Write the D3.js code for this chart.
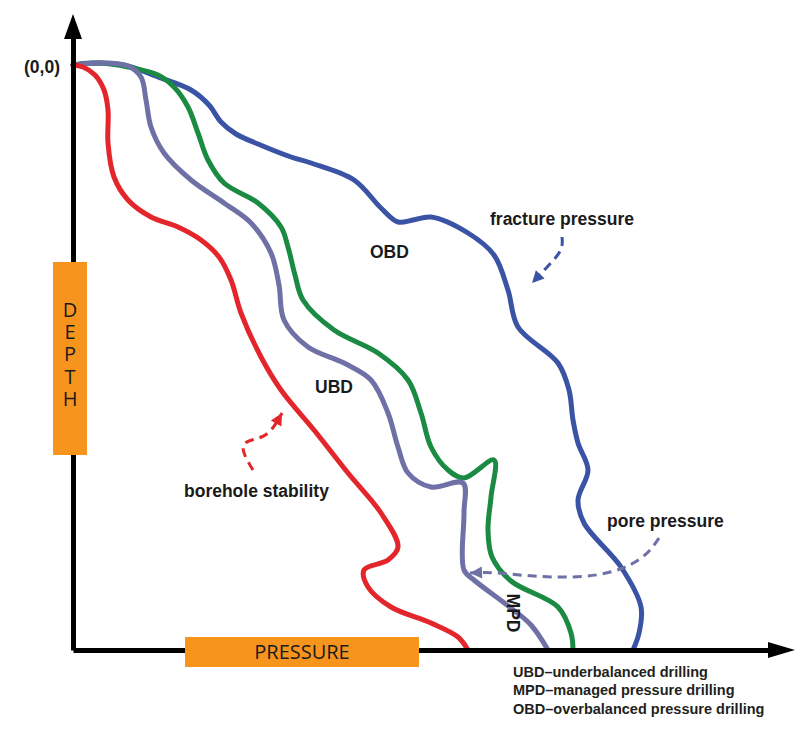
<!DOCTYPE html>
<html><head><meta charset="utf-8">
<script src="https://cdn.jsdelivr.net/npm/d3@7"></script>
<style>body{margin:0;background:#fff}svg{display:block}</style>
</head><body>
<svg id="c" width="800" height="730"></svg>
<script>
// Data (pressure, depth), origin (0,0) at top-left of the axes
const fracturePressure = [[0,0],[18,-2],[51,0],[85,12],[118,25],[136,40],[148,57],[163,69],[185,79],[218,92],[238,98],[281,115],[308,143],[325,157],[340,155],[358,152],[395,168],[421,190],[435,225],[445,262],[485,298],[496,325],[500,355],[505,378],[515,405],[505,435],[511,458],[548,502],[568,542],[566,568],[560,585]];
const mpdUpper = [[0,0],[28,-2],[55,2],[85,10],[101,22],[115,42],[125,68],[135,95],[151,118],[185,138],[208,162],[215,182],[222,210],[230,235],[261,265],[305,288],[335,315],[348,348],[358,382],[375,405],[391,413],[421,395],[418,432],[415,465],[419,492],[438,516],[485,542],[498,568],[500,585]];
const porePressure = [[0,0],[28,-2],[55,1],[68,12],[73,35],[78,62],[91,88],[118,115],[151,138],[178,158],[198,188],[206,220],[211,255],[235,282],[271,298],[298,315],[315,348],[325,382],[335,408],[358,422],[390,418],[391,448],[391,505],[401,515],[434,540],[458,560],[475,585]];
const boreholeStability = [[0,0],[10,2],[22,10],[31,25],[35,45],[35,78],[41,112],[55,135],[78,152],[105,162],[128,175],[146,192],[158,215],[168,248],[188,292],[208,325],[241,365],[275,408],[308,448],[325,482],[315,495],[291,505],[295,522],[318,542],[358,558],[385,572],[395,585]];

const seriesNames = ["fracture pressure","MPD upper","pore pressure","borehole stability"];
const seriesColors = ["#3a53a5","#1b8a42","#6e70a6","#e3262c"];

// annotation arrows (pressure, depth)
const arrowFracture = [[489,172],[490,185],[476,200],[459,218]];
const arrowBorehole = [[180,405],[168,385],[172,375],[195,373],[209,348]];
const arrowPore = [[586,473],[571,495],[528,513],[461,512],[421,507],[397,508]];
const arrowColors = ["#3a53a5","#e3262c","#6e70a6"];

const labels = [
  {t:"fracture pressure", p:417, d:160},
  {t:"OBD", p:297, d:193},
  {t:"UBD", p:242, d:328},
  {t:"borehole stability", p:111, d:432},
  {t:"pore pressure", p:534, d:462}
];
const legendLines = ["UBD–underbalanced drilling","MPD–managed pressure drilling","OBD–overbalanced pressure drilling"];

const svg = d3.select("#c");
const x = d3.scaleLinear().domain([0, 697]).range([73, 770]);
const y = d3.scaleLinear().domain([-28, 585]).range([37, 650]);

const line = d3.line().x(d=>x(d[0])).y(d=>y(d[1])).curve(d3.curveCatmullRom.alpha(0.5));

// curves
[fracturePressure, mpdUpper, porePressure, boreholeStability].forEach((s,i)=>{
  svg.append("path").attr("d", line(s)).attr("fill","none")
    .attr("stroke", seriesColors[i]).attr("stroke-width",5)
    .attr("stroke-linecap","round").attr("stroke-linejoin","round");
});

// axes
const gx = svg.append("g").attr("transform",`translate(0,${y(585)})`)
  .call(d3.axisBottom(x).tickValues([]).tickSizeOuter(0));
gx.select(".domain").attr("stroke","#000").attr("stroke-width",5);
const gy = svg.append("g").attr("transform",`translate(${x(0)},0)`)
  .call(d3.axisLeft(y).tickValues([]).tickSizeOuter(0));
gy.select(".domain").attr("stroke","#000").attr("stroke-width",5);
// arrowheads
const x1 = x(697), yb = y(585);
svg.append("path").attr("d",`M${x1-2},${yb-8}L${x1+25},${yb}L${x1-2},${yb+8}Z`).attr("fill","#000");
const x0 = x(0), yt = y(-28);
svg.append("path").attr("d",`M${x0-9},${yt+2}L${x0},${yt-23}L${x0+9},${yt+2}Z`).attr("fill","#000");

// axis boxes
svg.append("rect").attr("x",x0-20).attr("y",262).attr("width",34).attr("height",193).attr("fill","#f7941e");
svg.append("text").attr("x",x0-3).attr("y",296)
  .style("writing-mode","vertical-rl").style("text-orientation","upright")
  .attr("letter-spacing",-4.8)
  .attr("font-family","'Open Sans', sans-serif").attr("font-size",20).attr("fill","#1a1a1a").text("DEPTH");
svg.append("rect").attr("x",185).attr("y",637).attr("width",234).attr("height",30).attr("fill","#f7941e");
svg.append("text").attr("x",302).attr("y",659).attr("text-anchor","middle")
  .attr("font-family","'Open Sans', sans-serif").attr("font-size",20).attr("fill","#1a1a1a").text("PRESSURE");

svg.append("text").attr("x",60).attr("y",73).attr("text-anchor","end")
  .attr("font-family","'Liberation Sans', Arial, sans-serif").attr("font-weight","bold").attr("font-size",17.5).attr("fill","#1a1a1a").text("(0,0)");

// dashed annotation arrows
const aline = d3.line().x(d=>x(d[0])).y(d=>y(d[1])).curve(d3.curveBasis);
[arrowFracture, arrowBorehole, arrowPore].forEach((a,i)=>{
  const pts = a;
  svg.append("path").attr("d", aline(pts)).attr("fill","none")
    .attr("stroke",arrowColors[i]).attr("stroke-width",3).attr("stroke-dasharray","9,6");
  const p1 = pts[pts.length-2], p2 = pts[pts.length-1];
  const ang = Math.atan2(y(p2[1])-y(p1[1]), x(p2[0])-x(p1[0]));
  const tx = x(p2[0]), ty = y(p2[1]);
  const L = 12, W = 6;
  const bx = tx - L*Math.cos(ang), by = ty - L*Math.sin(ang);
  svg.append("path").attr("d",`M${tx},${ty}L${bx - W*Math.sin(ang)},${by + W*Math.cos(ang)}L${bx + W*Math.sin(ang)},${by - W*Math.cos(ang)}Z`)
    .attr("fill",arrowColors[i]);
});

// labels
svg.selectAll(".lab").data(labels).join("text")
  .attr("x",d=>x(d.p)).attr("y",d=>y(d.d))
  .attr("font-family","'Liberation Sans', Arial, sans-serif").attr("font-weight","bold")
  .attr("font-size",17.5).attr("fill","#1a1a1a").text(d=>d.t);
svg.append("text").attr("transform",`translate(${x(434)},${y(548)}) rotate(90)`)
  .attr("text-anchor","middle")
  .attr("font-family","'Liberation Sans', Arial, sans-serif").attr("font-weight","bold")
  .attr("font-size",17.5).attr("fill","#1a1a1a").text("MPD");

svg.selectAll(".leg").data(legendLines).join("text")
  .attr("x",513).attr("y",(d,i)=>677+i*18.3)
  .attr("font-family","'Liberation Sans', Arial, sans-serif").attr("font-weight","bold")
  .attr("font-size",14.5).attr("fill","#231f20").text(d=>d);
</script>
</body></html>
